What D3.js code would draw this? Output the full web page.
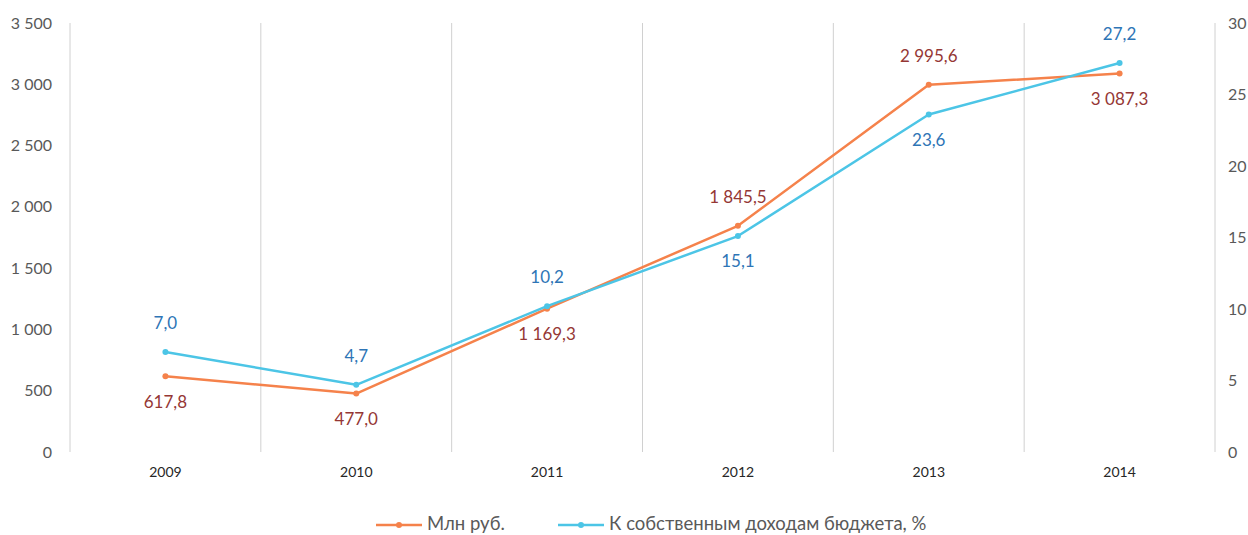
<!DOCTYPE html>
<html>
<head>
<meta charset="utf-8">
<script src="https://cdn.jsdelivr.net/npm/d3@7"></script>
<style>
  body { margin: 0; background: #fff; }
  svg text { font-family: Lato, "Open Sans", sans-serif; }
</style>
</head>
<body>
<div id="chart"></div>
<script>
// chart data
var years = ["2009", "2010", "2011", "2012", "2013", "2014"];
var rub = [617.8, 477.0, 1169.3, 1845.5, 2995.6, 3087.3];
var pct = [7.0, 4.7, 10.2, 15.1, 23.6, 27.2];
// label placement per point: -1 above, 1 below
var rubSide = [1, 1, 1, -1, -1, 1];
var pctSide = [-1, -1, -1, 1, 1, -1];
var leftTicks = [0, 500, 1000, 1500, 2000, 2500, 3000, 3500];
var rightTicks = [0, 5, 10, 15, 20, 25, 30];
var seriesNames = ["Млн руб.", "К собственным доходам бюджета, %"];

var width = 1248, height = 535;
var margin = {top: 23, right: 33, bottom: 83, left: 70};

var svg = d3.select("#chart").append("svg")
    .attr("width", width)
    .attr("height", height);

var x = d3.scaleBand()
    .domain(years)
    .range([margin.left, width - margin.right]);

var yL = d3.scaleLinear().domain([0, 3500]).range([height - margin.bottom, margin.top]);
var yR = d3.scaleLinear().domain([0, 30]).range([height - margin.bottom, margin.top]);

var fmt = function(v) {
  var s = d3.format(",.1f")(v);
  return s.replace(/,/g, " ").replace(".", ",");
};

// vertical grid lines at category borders
var borders = years.map(function(d) { return x(d); });
borders.push(x(years[years.length - 1]) + x.bandwidth());
svg.selectAll("line.grid")
  .data(borders)
  .enter().append("line")
    .attr("class", "grid")
    .attr("x1", function(d) { return d; })
    .attr("x2", function(d) { return d; })
    .attr("y1", yL(3500))
    .attr("y2", yL(0))
    .attr("stroke", "#d0d0d0")
    .attr("stroke-width", 1);

// left axis
var gL = svg.append("g")
    .attr("transform", "translate(" + margin.left + ",0)")
    .call(d3.axisLeft(yL).tickValues(leftTicks).tickSize(0).tickPadding(18)
      .tickFormat(function(d) { return d3.format(",")(d).replace(/,/g, " "); }));
gL.select(".domain").remove();
gL.selectAll("text").attr("fill", "#595959").style("font-size", "16px");

// right axis
var gR = svg.append("g")
    .attr("transform", "translate(" + (width - margin.right) + ",0)")
    .call(d3.axisRight(yR).tickValues(rightTicks).tickSize(0).tickPadding(13));
gR.select(".domain").remove();
gR.selectAll("text").attr("fill", "#595959").style("font-size", "16px");

// category axis
var gX = svg.append("g")
    .attr("transform", "translate(0," + (height - margin.bottom) + ")")
    .call(d3.axisBottom(x).tickSize(0).tickPadding(15));
gX.select(".domain").remove();
gX.selectAll("text").attr("fill", "#262626").style("font-size", "14px");

var series = [
  {values: rub, y: yL, color: "#f5824b", labelColor: "#953735", side: rubSide},
  {values: pct, y: yR, color: "#4cc5e6", labelColor: "#2e75b6", side: pctSide}
];

series.forEach(function(s) {
  var line = d3.line()
    .x(function(d, i) { return x(years[i]) + x.bandwidth() / 2; })
    .y(function(d) { return s.y(d); });

  svg.append("path")
    .datum(s.values)
    .attr("d", line)
    .attr("fill", "none")
    .attr("stroke", s.color)
    .attr("stroke-width", 2.5)
    .attr("stroke-linejoin", "round");

  svg.selectAll(null)
    .data(s.values)
    .enter().append("circle")
      .attr("cx", function(d, i) { return x(years[i]) + x.bandwidth() / 2; })
      .attr("cy", function(d) { return s.y(d); })
      .attr("r", 3)
      .attr("fill", s.color);

  svg.selectAll(null)
    .data(s.values)
    .enter().append("text")
      .attr("x", function(d, i) { return x(years[i]) + x.bandwidth() / 2; })
      .attr("y", function(d, i) { return s.y(d) + s.side[i] * 27; })
      .attr("text-anchor", "middle")
      .attr("dominant-baseline", "middle")
      .attr("fill", s.labelColor)
      .style("font-size", "17px")
      .text(function(d) { return fmt(d); });
});

// legend
var legend = svg.append("g").attr("transform", "translate(0,525)");
var legendX = [376, 558];
series.forEach(function(s, i) {
  var g = legend.append("g").attr("transform", "translate(" + legendX[i] + ",0)");
  g.append("line")
    .attr("x1", 0).attr("x2", 46)
    .attr("stroke", s.color).attr("stroke-width", 2.5);
  g.append("circle").attr("cx", 23).attr("r", 3).attr("fill", s.color);
  g.append("text")
    .attr("x", 51)
    .attr("dominant-baseline", "middle")
    .attr("fill", "#595959")
    .style("font-size", "18.5px")
    .text(seriesNames[i]);
});
</script>
</body>
</html>
